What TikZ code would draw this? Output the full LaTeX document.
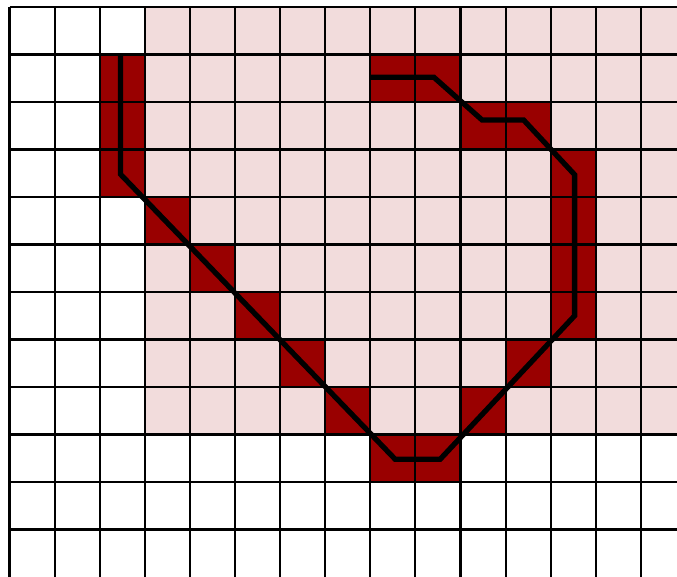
\documentclass[tikz,border=0pt]{standalone}
\usepackage{tikz}
\definecolor{visitpink}{RGB}{242,220,220}
\definecolor{pathred}{RGB}{153,0,0}
\tikzset{
  gridline/.style={black, line width=0.6pt},
  visited/.style={fill=visitpink},
  pathcell/.style={fill=pathred},
  route/.style={black, line width=1.5pt},
}
\begin{document}
\begin{tikzpicture}[x={(0.451cm,0)}, y={(0,-0.475cm)}]
  \useasboundingbox (-0.211,-0.147) rectangle (14.8,11.98);
  \clip (-0.211,-0.147) rectangle (14.8,11.98);
  % explored region
  \fill[visited] (3,0) rectangle (14.8,9);
  % cells on the route
  \foreach \c/\r in {2/1, 2/2, 2/3, 3/4, 4/5, 5/6, 6/7, 7/8, 8/9, 9/9,
                     10/8, 11/7, 12/6, 12/5, 12/4, 12/3, 11/2, 10/2, 8/1, 9/1}
    \fill[pathcell] (\c,\r) rectangle ++(1,1);
  % grid
  \foreach \i in {0,...,14}
    \draw[gridline] (\i,0) -- (\i,12.2);
  \foreach \j in {0,...,11}
    \draw[gridline] (0,\j) -- (15,\j);
  % route
  \draw[route] (2.46,1) -- (2.46,3.52) -- (8.55,9.52) -- (9.55,9.52)
    -- (12.53,6.5) -- (12.53,3.53) -- (11.4,2.38) -- (10.48,2.38)
    -- (9.41,1.48) -- (8.02,1.48);
\end{tikzpicture}
\end{document}
